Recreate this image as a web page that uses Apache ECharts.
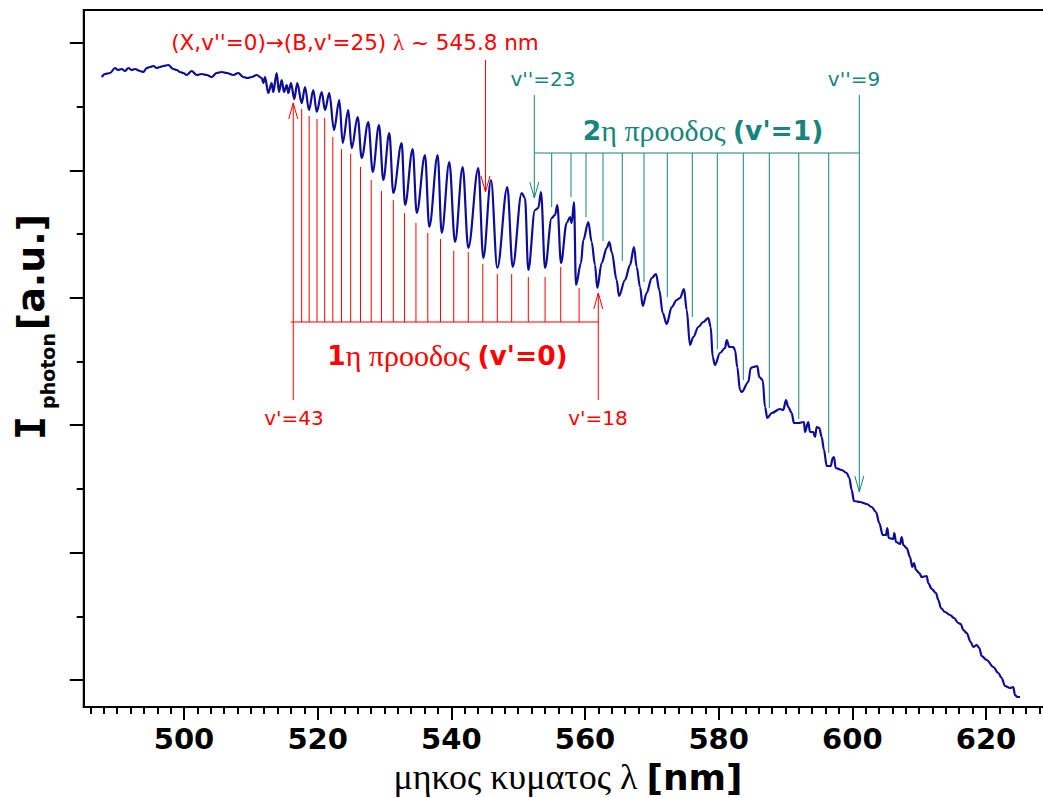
<!DOCTYPE html>
<html><head><meta charset="utf-8">
<script src="https://cdn.jsdelivr.net/npm/echarts@6/dist/echarts.min.js"></script>
<style>html,body{margin:0;padding:0;background:#fff}#c{width:1043px;height:798px}</style>
</head><body><div id="c"></div>
<script>
// ---- spectrum (wavelength in nm, intensity in a.u.) ----
const wavelength = [487.69,488.18,488.93,489.68,490.12,490.68,491.17,491.67,492.17,492.67,493.42,493.91,494.42,494.91,495.41,495.92,496.41,496.90,497.65,498.40,498.91,499.40,499.90,500.40,501.15,501.90,502.65,503.40,504.14,504.89,505.64,506.39,507.38,508.12,508.87,509.50,510.13,510.88,511.63,511.87,512.12,512.61,513.12,513.36,513.87,514.21,514.62,514.96,515.37,515.61,516.01,516.50,516.95,517.61,518.11,518.70,519.35,519.86,520.60,521.10,521.74,522.44,523.24,523.75,524.58,525.09,525.99,526.59,527.58,528.24,529.18,529.82,530.72,531.32,532.57,533.07,534.22,534.82,536.06,536.70,537.96,538.56,539.70,540.55,541.70,542.54,544.04,544.78,545.94,546.88,548.38,549.18,550.53,551.02,551.52,552.52,553.01,553.42,554.02,555.02,555.51,555.86,556.41,557.26,557.76,558.01,558.36,558.65,559.40,559.75,560.50,561.00,561.50,561.84,562.50,563.25,563.64,564.00,564.74,565.09,565.99,566.74,567.33,567.74,568.23,568.64,569.23,569.98,570.63,571.12,571.63,572.23,572.98,573.72,574.22,574.82,575.22,575.71,576.21,576.96,577.70,578.45,578.81,579.11,579.45,580.20,580.95,581.21,581.59,582.19,582.45,582.79,583.19,583.45,584.44,584.80,585.18,585.78,586.08,586.59,586.94,587.28,587.94,589.18,589.67,590.08,590.42,590.93,591.27,591.92,592.77,592.92,593.41,593.67,594.16,594.42,594.67,595.06,595.42,595.76,596.17,596.77,597.07,597.26,597.51,598.41,599.16,599.55,599.91,600.25,601.15,602.15,602.90,603.54,604.04,604.55,605.04,605.24,605.45,606.13,606.28,606.54,607.14,607.39,607.63,608.14,608.63,608.98,609.23,609.53,610.02,610.38,611.13,611.37,611.88,612.52,612.87,613.27,613.87,614.62,615.22,615.86,616.22,616.61,617.11,617.71,618.10,618.61,619.00,619.36,620.11,621.10,621.84,622.35,622.85,623.60,624.09,624.34,624.69,625.09];
const intensity = [603,606,607,612,610,611,609,612,610,611,609,608,612,613,614,612,613,614,615,611,610,608,607,605,609,605,606,605,603,607,608,607,605,607,603,602,603,605,602,597,603,587,597,588,607,588,600,588,595,587,597,581,597,577,593,570,590,568,588,570,587,550,580,537,570,532,563,522,558,508,555,500,547,487,537,475,531,467,525,453,525,447,518,438,513,432,512,422,500,412,493,413,487,482,410,470,472,488,412,462,465,475,417,457,463,457,478,395,417,440,458,438,415,392,417,432,438,428,400,384,400,415,433,413,393,374,387,402,406,390,367,356,373,380,382,391,370,335,343,353,358,362,353,323,315,327,332,340,333,333,330,313,290,288,298,312,313,314,303,300,273,262,267,271,270,280,273,267,257,257,258,248,258,248,248,243,253,252,243,230,214,214,222,223,212,210,207,202,190,179,178,176,173,168,157,145,145,152,142,141,147,138,136,143,135,132,123,113,117,110,107,103,104,97,91,87,80,72,68,65,62,57,56,50,47,38,33,35,32,24,20,13,7,2,-6,-8,-7,-15,-17,-17];

// ---- axis ticks ----
const xMajorTicks = [500,520,540,560,580,600,620];
const xMinorTicks = [486,488,490,492,494,496,498,502,504,506,508,510,512,514,516,518,522,524,526,528,530,532,534,536,538,542,544,546,548,550,552,554,556,558,562,564,566,568,570,572,574,576,578,582,584,586,588,590,592,594,596,598,602,604,606,608,610,612,614,616,618,622,624,626,628];
const yMajorTicks = [0,127.4,254.8,382.2,509.6,637];
const yMinorTicks = [63.7,191.1,318.5,445.9,573.3];

// ---- 1st progression (v'=0), v'=43 ... v'=18 ----
const prog1X = [516.35,517.61,518.73,519.90,521.05,522.27,523.57,524.94,526.41,528.01,529.55,531.32,532.99,534.71,536.48,538.38,540.36,542.54,544.71,546.88,549.03,551.52,554.03,556.37,559.12,561.99];
const prog1Top = [577,571,564,561,562,543,531,526,513,500,489,480,467,457,447,441,429,428,416,406,406,403,403,413,392,387];
const prog1Bracket = 358;
const prog1BracketStart = 515.95;
const prog1EndLow = 280;

// ---- 2nd progression (v'=1), v''=23 ... v''=9 ----
const prog2X = [552.42,555.02,557.91,560.15,562.70,565.58,568.83,572.32,576.06,579.80,583.69,587.58,591.99,596.47,601.05];
const prog2Bottom = [482,473,483,463,439,419,398,383,363,331,300,272,261,227,188];
const prog2Bracket = 527;
const prog2EndHigh = 585;

// ---- marker arrow (X,v''=0)->(B,v'=25) ----
const markerX = 545.11, markerTop = 620, markerTip = 488;

// ---- annotation texts ----
const labelTexts = [
  "{s|(X,v''=0)→(B,v'=25) }{g|λ}{s| ~ 545.8 nm}",
  "{s|v'=43}",
  "{s|v'=18}",
  "{b|1}{g|η προοδος }{b|(v'=0)}",
  "{s|v''=23}",
  "{s|v''=9}",
  "{b|2}{g|η προοδος }{b|(v'=1)}"
];
const labelX = [525.59, 516.46, 561.95, 539.42, 553.72, 600.25, 577.66];
const labelY = [638, 262, 262, 325, 601, 601, 550];
const labelColor = ['r','r','r','r','t','t','t'];

const RED = '#ff0000', TEAL = '#17847e', NAVY = '#0d0d9a';
const colorOf = c => c === 'r' ? RED : TEAL;

// segments [x1,y1,x2,y2,colorFlag(0 red,1 teal)]
const segs = [];
prog1X.forEach((x, i) => {
  const end = (i === 0 || i === prog1X.length - 1);
  segs.push([x, end ? prog1EndLow : prog1Bracket, x, prog1Top[i], 0]);
});
segs.push([prog1BracketStart, prog1Bracket, prog1X[prog1X.length - 1], prog1Bracket, 0]);
segs.push([markerX, markerTop, markerX, markerTip, 0]);
prog2X.forEach((x, i) => {
  const end = (i === 0 || i === prog2X.length - 1);
  segs.push([x, end ? prog2EndHigh : prog2Bracket, x, prog2Bottom[i], 1]);
});
segs.push([prog2X[0], prog2Bracket, prog2X[prog2X.length - 1], prog2Bracket, 1]);

// arrow heads [x, y, dir(1 up,-1 down), color]
const heads = [
  [prog1X[0], prog1Top[0], 1, 0],
  [prog1X[prog1X.length - 1], prog1Top[prog1Top.length - 1], 1, 0],
  [markerX, markerTip, -1, 0],
  [prog2X[0], prog2Bottom[0], -1, 1],
  [prog2X[prog2X.length - 1], prog2Bottom[prog2Bottom.length - 1], -1, 1]
];

const chart = echarts.init(document.getElementById('c'), null, {renderer: 'svg'});
const sans = 'DejaVu Sans';
const serif = 'Liberation Serif';

function richFor(col, kind) {
  return {
    s: {fill: col, fontFamily: sans, fontSize: kind === 'top' ? 21.5 : 20},
    g: {fill: col, fontFamily: serif, fontSize: kind === 'title' ? 30 : 23},
    b: {fill: col, fontFamily: sans, fontWeight: 'bold', fontSize: 26.5}
  };
}
const labelKind = ['top', 'small', 'small', 'title', 'small', 'small', 'title'];

chart.setOption({
  animation: false,
  grid: {left: 83.75, right: -9.8, top: 10, bottom: 91, show: true, borderColor: '#000', borderWidth: 2, outerBoundsMode: 'none', containLabel: false},
  xAxis: [{
    type: 'value', min: 485, max: 630, position: 'bottom',
    axisLine: {show: true, onZero: false, lineStyle: {color: '#000', width: 2}},
    axisTick: {show: true, customValues: xMajorTicks, length: 13, lineStyle: {color: '#000', width: 2}},
    axisLabel: {show: true, customValues: xMajorTicks, color: '#000', fontFamily: sans, fontWeight: 'bold', fontSize: 29, lineHeight: 29, margin: 17},
    splitLine: {show: false}
  }, {
    type: 'value', min: 485, max: 630, position: 'bottom', gridIndex: 0,
    axisLine: {show: false, onZero: false},
    axisTick: {show: true, customValues: xMinorTicks, length: 7, lineStyle: {color: '#000', width: 2}},
    axisLabel: {show: false},
    splitLine: {show: false}
  }],
  yAxis: [{
    type: 'value', min: -27, max: 670, position: 'left',
    axisLine: {show: true, onZero: false, lineStyle: {color: '#000', width: 2}},
    axisTick: {show: true, customValues: yMajorTicks, length: 14, lineStyle: {color: '#000', width: 2}},
    axisLabel: {show: false},
    splitLine: {show: false}
  }, {
    type: 'value', min: -27, max: 670, position: 'left', gridIndex: 0,
    axisLine: {show: false, onZero: false},
    axisTick: {show: true, customValues: yMinorTicks, length: 7, lineStyle: {color: '#000', width: 2}},
    axisLabel: {show: false},
    splitLine: {show: false}
  }],
  graphic: [
    {type: 'text', x: 31, y: 428, rotation: Math.PI / 2, style: {text: 'I', fontFamily: 'DejaVu Sans Mono', fontWeight: 'bold', fontSize: 40, fill: '#000', align: 'center', verticalAlign: 'middle'}},
    {type: 'text', x: 48, y: 371, rotation: Math.PI / 2, style: {text: 'photon', fontFamily: sans, fontWeight: 'bold', fontSize: 19, fill: '#000', align: 'center', verticalAlign: 'middle'}},
    {type: 'text', x: 31, y: 272, rotation: Math.PI / 2, style: {text: '[a.u.]', fontFamily: sans, fontWeight: 'bold', fontSize: 38, fill: '#000', align: 'center', verticalAlign: 'middle'}},
    {type: 'text', x: 568, y: 777, style: {text: '{g|μηκος κυματος λ }{b|[nm]}', align: 'center', verticalAlign: 'middle',
      rich: {g: {fontFamily: serif, fontSize: 36, lineHeight: 36, fill: '#000'}, b: {fontFamily: sans, fontWeight: 'bold', fontSize: 36, lineHeight: 36, fill: '#000'}}}}
  ],
  series: [
    {
      type: 'custom', name: 'segments', xAxisIndex: 0, yAxisIndex: 0, z: 2,
      data: segs,
      renderItem: (params, api) => {
        const p1 = api.coord([api.value(0), api.value(1)]);
        const p2 = api.coord([api.value(2), api.value(3)]);
        return {type: 'line', shape: {x1: p1[0], y1: p1[1], x2: p2[0], y2: p2[1]},
          style: {stroke: api.value(4) === 0 ? RED : TEAL, lineWidth: 1}};
      }
    },
    {
      type: 'custom', name: 'heads', xAxisIndex: 0, yAxisIndex: 0, z: 2,
      data: heads,
      renderItem: (params, api) => {
        const p = api.coord([api.value(0), api.value(1)]);
        const d = api.value(2);
        return {type: 'polyline', shape: {points: [[p[0] - 4.5, p[1] + 16 * d], [p[0], p[1]], [p[0] + 4.5, p[1] + 16 * d]]},
          style: {stroke: api.value(3) === 0 ? RED : TEAL, lineWidth: 1, fill: null}};
      }
    },
    {
      type: 'custom', name: 'labels', xAxisIndex: 0, yAxisIndex: 0, z: 3,
      data: labelX.map((x, i) => [x, labelY[i], i]),
      renderItem: (params, api) => {
        const i = api.value(2);
        const p = api.coord([api.value(0), api.value(1)]);
        const col = colorOf(labelColor[i]);
        return {type: 'text', x: p[0], y: p[1],
          style: {text: labelTexts[i], align: 'center', verticalAlign: 'middle', fill: col, rich: richFor(col, labelKind[i])}};
      }
    },
    {
      type: 'line', name: 'spectrum', xAxisIndex: 0, yAxisIndex: 0, z: 5,
      data: wavelength.map((w, i) => [w, intensity[i]]),
      showSymbol: false, symbol: 'none', smooth: 0.35, smoothMonotone: 'x',
      lineStyle: {color: NAVY, width: 2.2}
    }
  ]
});
</script>
</body></html>
